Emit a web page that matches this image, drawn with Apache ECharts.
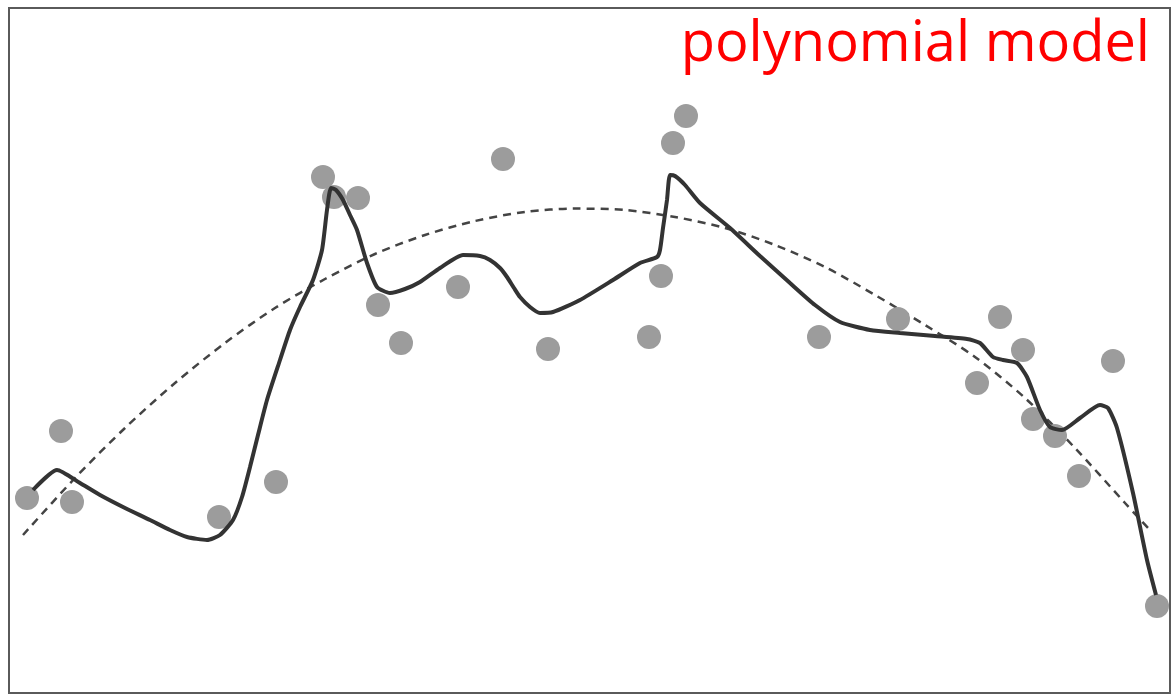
<!DOCTYPE html>
<html>
<head>
<meta charset="utf-8">
<script src="https://cdn.jsdelivr.net/npm/echarts@6/dist/echarts.min.js"></script>
<style>html,body{margin:0;padding:0;background:#fff;}#c{width:1176px;height:699px;}</style>
</head>
<body>
<div id="c"></div>
<script>
// Observed data points (x, y) in the chart's own units (y grows downward)
const pointsX = [27,61,72,219,276,323,334,358,378,401,458,503,548,649,661,673,686,819,898,977,1000,1023,1033,1055,1079,1113,1157];
const pointsY = [498,431,502,517,482,177,197,198,305,343,287,159,349,337,276,143,116,337,319,383,317,350,419,436,476,361,606];

// Overfitted (high-order) model curve
const fitX = [33,57,80,100,125,150,170,187,207,220,233,242,250,258,267,280,290,300,313,322,327,331,336,343,350,357,367,377,390,405,420,440,463,480,490,500,507,514,520,530,540,553,580,613,640,657,660,663,667,670,675,685,700,730,760,790,815,840,870,900,935,967,980,993,1003,1017,1027,1040,1050,1062,1080,1100,1108,1117,1133,1147,1156];
const fitY = [490,470,483,495,508,520,530,537,540,535,520,497,467,435,400,360,330,307,280,250,210,188,190,200,215,230,263,287,293,289,282,268,255,256,260,268,277,288,297,307,313,312,300,280,263,257,250,228,200,175,176,185,203,228,256,283,305,322,330,333,336,339,343,357,360,363,377,410,427,430,418,405,408,428,493,560,595];

// Low-order polynomial model (dashed parabola)
const polyX = [23,75,125,175,225,275,325,375,425,475,525,575,625,675,725,775,825,875,925,975,1025,1075,1125,1148];
const polyY = [535,478,428,383,343,308,279,254,235,221,212,208.6,210,217,228,245,267,295,325,357,398,448,503,528];

const scatterData = pointsX.map((x, i) => [x, pointsY[i]]);
const fitData = fitX.map((x, i) => [x, fitY[i]]);
const polyData = polyX.map((x, i) => [x, polyY[i]]);

const chart = echarts.init(document.getElementById('c'), null, {renderer: 'canvas'});
chart.setOption({
  animation: false,
  backgroundColor: '#ffffff',
  title: {
    text: 'polynomial model',
    right: 21,
    top: 12,
    textStyle: {color: '#ff0000', fontSize: 56, fontWeight: 'normal', fontFamily: 'Open Sans'}
  },
  grid: {
    left: 9, right: 6, top: 8, bottom: 6,
    show: true, borderColor: '#5a5a5a', borderWidth: 2, backgroundColor: 'transparent'
  },
  xAxis: {
    type: 'value', min: 9, max: 1170,
    axisLine: {show: false}, axisTick: {show: false}, axisLabel: {show: false}, splitLine: {show: false}
  },
  yAxis: {
    type: 'value', min: 8, max: 693, inverse: true,
    axisLine: {show: false}, axisTick: {show: false}, axisLabel: {show: false}, splitLine: {show: false}
  },
  series: [
    {
      type: 'line', data: polyData, smooth: 0.3, showSymbol: false, silent: true,
      lineStyle: {color: '#444444', width: 2.5, type: [8, 6]}, z: 2
    },
    {
      type: 'scatter', data: scatterData, symbolSize: 24, silent: true,
      itemStyle: {color: '#9c9c9c', opacity: 1}, z: 3
    },
    {
      type: 'line', data: fitData, smooth: 0.2, showSymbol: false, silent: true,
      lineStyle: {color: '#333333', width: 4}, z: 4
    }
  ]
});
</script>
</body>
</html>
